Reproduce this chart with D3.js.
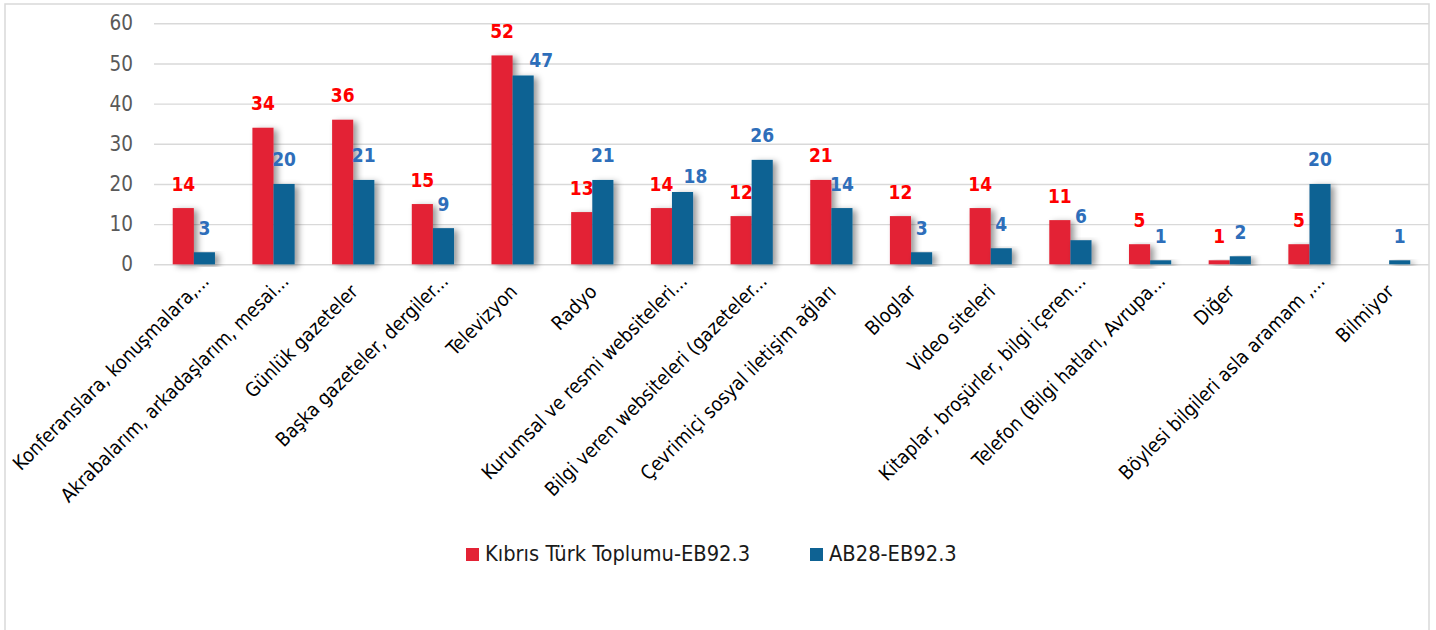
<!DOCTYPE html>
<html>
<head>
<meta charset="utf-8">
<script src="https://cdn.jsdelivr.net/npm/d3@7"></script>
<style>
  body{margin:0;background:#fff;}
  svg{display:block;font-family:"DejaVu Sans Condensed","DejaVu Sans",sans-serif;}
</style>
</head>
<body>
<svg id="svg" width="1436" height="630"></svg>
<script>
var categories=["Konferanslara, konuşmalara,...","Akrabalarım, arkadaşlarım, mesai...","Günlük gazeteler",
  "Başka gazeteler, dergiler...","Televizyon","Radyo","Kurumsal ve resmi websiteleri...",
  "Bilgi veren websiteleri (gazeteler...","Çevrimiçi sosyal iletişim ağları","Bloglar","Video siteleri",
  "Kitaplar, broşürler, bilgi içeren...","Telefon (Bilgi hatları, Avrupa...","Diğer",
  "Böylesi bilgileri asla aramam ,...","Bilmiyor"];
var seriesNames=["Kıbrıs Türk Toplumu-EB92.3","AB28-EB92.3"];
var kktValues=[14,34,36,15,52,13,14,12,21,12,14,11,5,1,5,null];
var ab28Values=[3,20,21,9,47,21,18,26,14,3,4,6,1,2,20,1];
var yTicks=[0,10,20,30,40,50,60];

var barColors=["#e32235","#0e6293"];
var labelColors=["#ff0000","#2e6eba"];
// a couple of labels were dragged aside in the original
var labelNudge={"AB28-EB92.3|Televizyon":[18,9],"AB28-EB92.3|Kurumsal ve resmi websiteleri...":[13,8]};

var svg=d3.select("#svg");
var plotLeft=154,plotRight=1429,plotTop=23.3,plotBottom=264.3;

var defs=svg.append("defs");
var f=defs.append("filter").attr("id","shadow").attr("x","-30%").attr("y","-10%").attr("width","180%").attr("height","130%");
f.append("feDropShadow").attr("dx",4).attr("dy",2).attr("stdDeviation",3)
  .attr("flood-color","#000").attr("flood-opacity",0.4);

//outer frame
svg.append("rect").attr("x",5).attr("y",4).attr("width",1424).attr("height",640)
  .attr("fill","none").attr("stroke","#d9d9d9").attr("stroke-width",1.5);

var x0=d3.scaleBand().domain(categories).range([plotLeft,plotRight]).paddingInner(0.47).paddingOuter(0.235);
var x1=d3.scaleBand().domain(seriesNames).range([0,x0.bandwidth()]);
var y=d3.scaleLinear().domain([0,60]).range([plotBottom,plotTop]);

//grid and y axis
var yAxis=svg.append("g").attr("transform","translate("+plotLeft+",0)")
  .call(d3.axisLeft(y).tickValues(yTicks).tickSize(-(plotRight-plotLeft)).tickPadding(21));
yAxis.select(".domain").remove();
yAxis.selectAll("line").attr("stroke","#d9d9d9").attr("stroke-width",1.4);
yAxis.selectAll("text").attr("fill","#595959").style("font-size","20.5px")
  .style("font-family","'DejaVu Sans Condensed'");

var rows=categories.map((c,i)=>({cat:c,vals:[kktValues[i],ab28Values[i]]}));

var groups=svg.selectAll("g.grp").data(rows).enter().append("g")
  .attr("class","grp").attr("transform",d=>"translate("+x0(d.cat)+",0)");

var cells=groups.selectAll("g.cell")
  .data(d=>seriesNames.map((s,j)=>({cat:d.cat,series:s,j:j,v:d.vals[j]})).filter(e=>e.v!=null))
  .enter().append("g").attr("class","cell");

cells.append("rect")
  .attr("x",d=>x1(d.series))
  .attr("y",d=>y(d.v))
  .attr("width",x1.bandwidth())
  .attr("height",d=>plotBottom-y(d.v))
  .attr("fill",d=>barColors[d.j])
  .attr("filter","url(#shadow)");

cells.append("text")
  .attr("x",d=>x1(d.series)+x1.bandwidth()/2+((labelNudge[d.series+"|"+d.cat]||[0,0])[0]))
  .attr("y",d=>y(d.v)-17.5+((labelNudge[d.series+"|"+d.cat]||[0,0])[1]))
  .attr("text-anchor","middle")
  .attr("fill",d=>labelColors[d.j])
  .style("font-weight","bold").style("font-size","19px")
  .text(d=>d.v);

//category labels
svg.append("g").selectAll("text").data(categories).enter().append("text")
  .attr("transform",d=>"translate("+(x0(d)+x0.bandwidth()/2+1)+",288) rotate(-45)")
  .attr("dx",d=>d.endsWith("...")?15:0)
  .attr("dy","0.35em")
  .attr("text-anchor","end")
  .attr("fill","#000")
  .style("font-size","19.5px")
  .text(d=>d);

//legend
var legendX=[466,810];
var lg=svg.append("g").selectAll("g").data(seriesNames).enter().append("g")
  .attr("transform",(d,i)=>"translate("+legendX[i]+",548)");
lg.append("rect").attr("width",13).attr("height",13).attr("fill",(d,i)=>barColors[i]);
lg.append("text").attr("x",19).attr("y",13).attr("fill","#1a1a1a")
  .style("font-size","21.7px").text(d=>d);
</script>
</body>
</html>
